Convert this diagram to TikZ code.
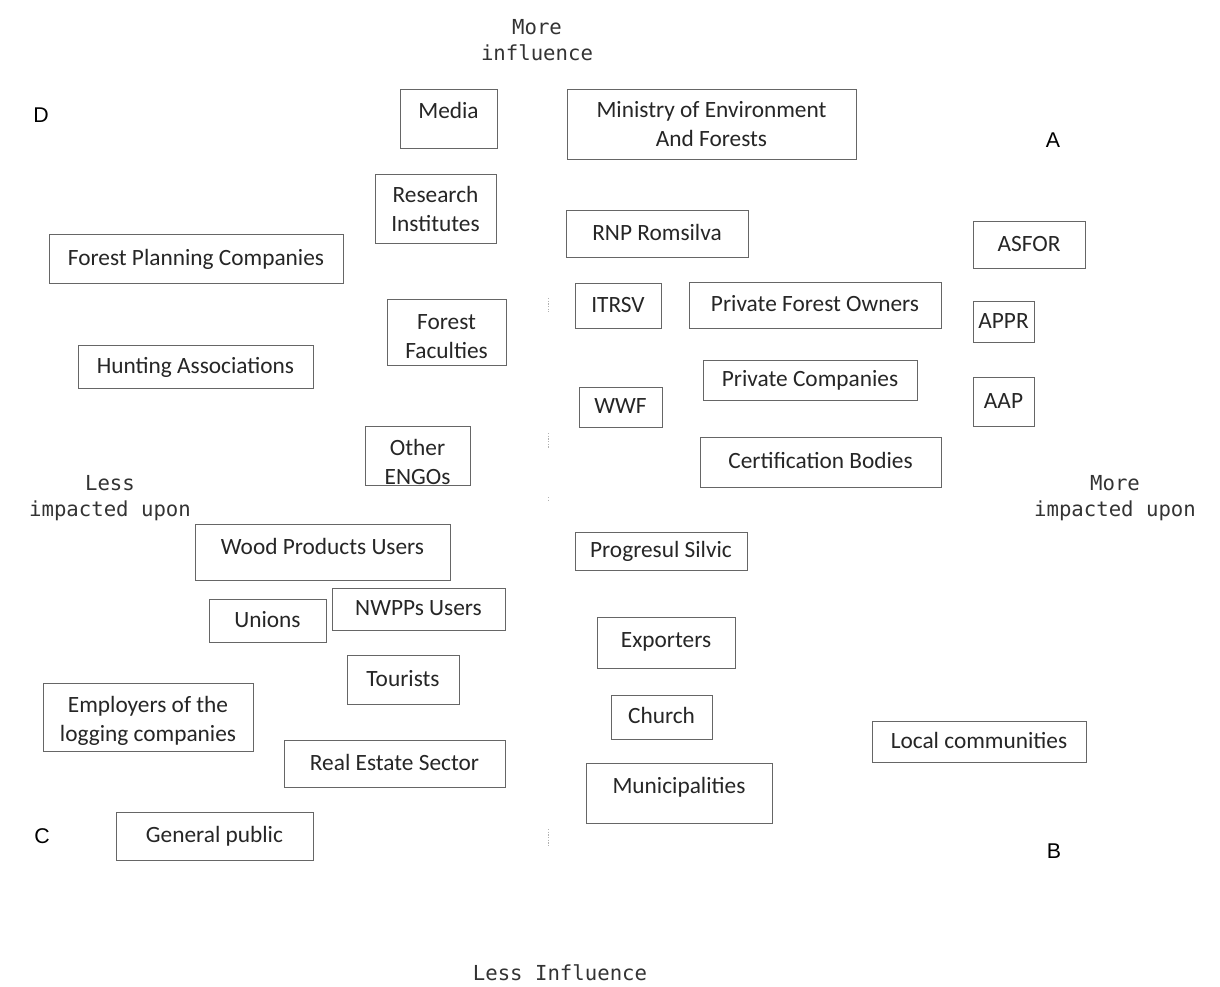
\documentclass[tikz,border=0pt]{standalone}
\usepackage{fontspec}
\newfontfamily\stakefont{Carlito}
\newfontfamily\axisfont{DejaVu Sans Mono}
\newfontfamily\cornerfont{Liberation Sans}
\tikzset{
  stake/.style={draw=black!60, line width=0.7pt, fill=white, text=black!85, inner sep=0pt, align=center,
    font=\stakefont\fontsize{17.5}{21.75}\selectfont},
  oneline/.style={text height=12pt, text depth=2pt},
  boxsize/.style 2 args={minimum width=#1*0.75pt, minimum height=#2*0.75pt},
  axislabel/.style={font=\axisfont\fontsize{15.5}{20}\selectfont, text=black!80, align=center, inner sep=0pt},
  corner/.style={font=\cornerfont\fontsize{16}{18}\selectfont, inner sep=0pt}
}

\begin{document}
\begin{tikzpicture}[x=0.75pt, y=-0.75pt]
\useasboundingbox (0,0) rectangle (1220,987);

% axis labels
\node[axislabel] (moreinf) at (537,40) {More\\influence};
\node[axislabel] (lessinf) at (560,973) {Less Influence};
\node[axislabel] (lessimp) at (110,498) {Less\\impacted upon};
\node[axislabel] (moreimp) at (1115,498) {More\\impacted upon};

% quadrants
\node[corner] (qd) at (41,115) {D};
\node[corner] (qa) at (1053,140) {A};
\node[corner] (qc) at (42,836) {C};
\node[corner] (qb) at (1054,851) {B};

% faint middle axis
\foreach \ya/\yb in {298/312, 433/448, 497/500, 829/846}
  \draw[black!30, dash pattern=on 1pt off 1pt] (548,\ya) -- (548,\yb);

% stakeholders, top half
\node[stake, oneline, text depth=11.6pt, boxsize={97}{59}] (media) at (448.5,118.5) {Media};
\node[stake, boxsize={289}{70}] (ministry) at (711.5,124) {Ministry of Environment\\And Forests};
\node[stake, boxsize={121}{69}] (research) at (435.5,208.5) {Research\\Institutes};
\node[stake, oneline, boxsize={182}{47}] (rnp) at (657,233.5) {RNP Romsilva};
\node[stake, oneline, boxsize={294}{49}] (planning) at (196,258.5) {Forest Planning Companies};
\node[stake, oneline, boxsize={112}{47}] (asfor) at (1029,244.5) {ASFOR};
\node[stake, oneline, boxsize={86}{45}] (itrsv) at (618,305.5) {ITRSV};
\node[stake, oneline, boxsize={252}{46}] (owners) at (815,305) {Private Forest Owners};
\node[stake, oneline, boxsize={61}{41}] (appr) at (1003.5,321.5) {APPR};
\node[stake, text height=40pt, text depth=0pt, boxsize={119}{66}] (faculties) at (446.5,332) {Forest\\Faculties};
\node[stake, oneline, boxsize={235}{43}] (hunting) at (195.5,366.5) {Hunting Associations};
\node[stake, oneline, boxsize={214}{40}] (companies) at (810,380) {Private Companies};
\node[stake, oneline, boxsize={61}{49}] (aap) at (1003.5,401.5) {AAP};
\node[stake, oneline, boxsize={83}{40}] (wwf) at (620.5,407) {WWF};
\node[stake, text height=43pt, text depth=0pt, boxsize={105}{59}] (engos) at (417.5,455.5) {Other\\ENGOs};
\node[stake, oneline, boxsize={241}{50}] (certif) at (820.5,462) {Certification Bodies};

% stakeholders, bottom half
\node[stake, oneline, text depth=7.8pt, boxsize={255}{56}] (wood) at (322.5,552) {Wood Products Users};
\node[stake, oneline, boxsize={172}{38}] (progresul) at (661,551) {Progresul Silvic};
\node[stake, oneline, boxsize={117}{43}] (unions) at (267.5,620.5) {Unions};
\node[stake, oneline, boxsize={173}{42}] (nwpps) at (418.5,609) {NWPPs Users};
\node[stake, oneline, text depth=4pt, boxsize={138}{51}] (exporters) at (666,642.5) {Exporters};
\node[stake, oneline, boxsize={112}{49}] (tourists) at (403,679.5) {Tourists};
\node[stake, text height=40pt, text depth=4pt, boxsize={210}{68}] (employers) at (148,717) {Employers of the\\logging companies};
\node[stake, oneline, boxsize={101}{44}] (church) at (661.5,717) {Church};
\node[stake, oneline, boxsize={214}{41}] (local) at (979,741.5) {Local communities};
\node[stake, oneline, boxsize={221}{47}] (realestate) at (394.5,763.5) {Real Estate Sector};
\node[stake, oneline, text depth=10.8pt, boxsize={186}{60}] (municip) at (679,793) {Municipalities};
\node[stake, oneline, boxsize={197}{48}] (public) at (214.5,836) {General public};
\end{tikzpicture}
\end{document}
